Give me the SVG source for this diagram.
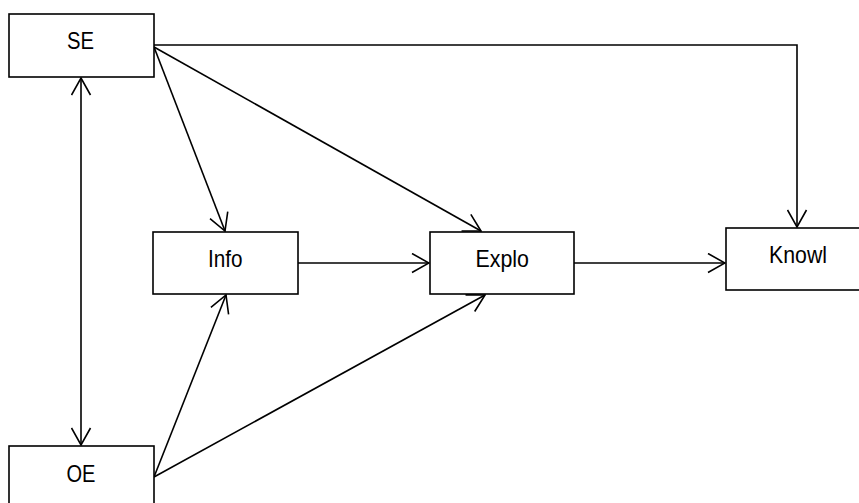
<svg xmlns="http://www.w3.org/2000/svg" width="859" height="503" viewBox="0 0 859 503">
<defs>
<marker id="arr" viewBox="0 0 19 21" refX="18" refY="10.5" markerWidth="19" markerHeight="21" markerUnits="userSpaceOnUse" orient="auto-start-reverse">
<path d="M1,1 L18,10.5 L1,20" fill="none" stroke="#000" stroke-width="1.6"/>
</marker>
</defs>
<style>
.box{fill:#fff;stroke:#000;stroke-width:1.6}
.lbl{font-family:"Liberation Sans",Arial,sans-serif;font-size:24px;fill:#000}
.c{fill:none;stroke:#000;stroke-width:1.6;marker-end:url(#arr)}
</style>
<rect width="859" height="503" fill="#fff"/>
<g id="connectors">
<path class="c" d="M81,78 L81,445" style="marker-start:url(#arr)"/>
<path class="c" d="M154,45 L797,45 L797,227"/>
<path class="c" d="M154,47 L225,231"/>
<path class="c" d="M154,47 L481,231"/>
<path class="c" d="M154,477 L226,295"/>
<path class="c" d="M154,477 L485,295"/>
<path class="c" d="M298,263 L429,263"/>
<path class="c" d="M574,263 L725,263"/>
</g>
<g id="SE"><rect class="box" x="9" y="14" width="145" height="63"/><text class="lbl" x="67" y="49" textLength="27" lengthAdjust="spacingAndGlyphs">SE</text></g>
<g id="OE"><rect class="box" x="9" y="446" width="145" height="70"/><text class="lbl" x="66.5" y="482" textLength="29" lengthAdjust="spacingAndGlyphs">OE</text></g>
<g id="Info"><rect class="box" x="153" y="232" width="145" height="62"/><text class="lbl" x="208" y="267" textLength="34.5" lengthAdjust="spacingAndGlyphs">Info</text></g>
<g id="Explo"><rect class="box" x="430" y="232" width="144" height="62"/><text class="lbl" x="475.5" y="267" textLength="53.5" lengthAdjust="spacingAndGlyphs">Explo</text></g>
<g id="Knowl"><rect class="box" x="726" y="228" width="145" height="62"/><text class="lbl" x="769" y="263" textLength="58" lengthAdjust="spacingAndGlyphs">Knowl</text></g>
</svg>
